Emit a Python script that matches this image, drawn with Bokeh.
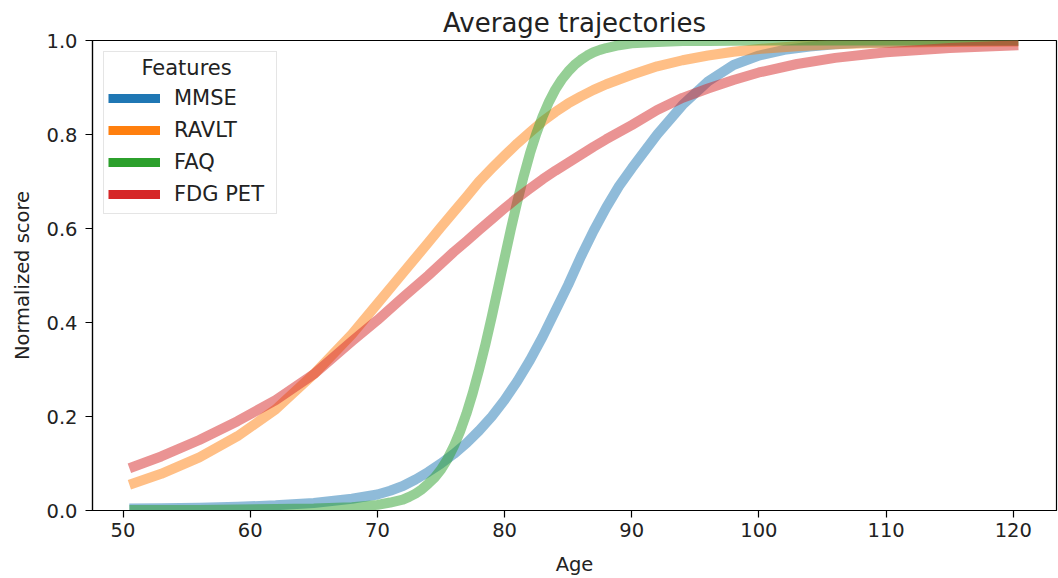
from bokeh.plotting import figure
from bokeh.models import Range1d, FixedTicker, PrintfTickFormatter, Legend, LegendItem
from bokeh.embed import file_html
from bokeh.resources import INLINE

# ---- data ----
ages = [50.5, 53, 56, 59, 62, 65, 68, 70, 72, 74, 75, 76, 77, 78, 79, 80, 81, 82, 83,
        84, 85, 86, 87, 88, 90, 92, 94, 96, 98, 100, 103, 106, 110, 115, 120.4]

ravlt = [0.055, 0.078, 0.113, 0.158, 0.215, 0.29, 0.375, 0.44, 0.505, 0.57, 0.603, 0.635,
         0.667, 0.70, 0.728, 0.755, 0.781, 0.805, 0.828, 0.848, 0.866, 0.881, 0.895, 0.907,
         0.927, 0.945, 0.958, 0.968, 0.976, 0.982, 0.988, 0.992, 0.995, 0.997, 0.998]

fdg_pet = [0.09, 0.115, 0.15, 0.19, 0.235, 0.29, 0.36, 0.405, 0.453, 0.50, 0.525, 0.55,
           0.573, 0.597, 0.62, 0.643, 0.665, 0.685, 0.705, 0.723, 0.74, 0.757, 0.774, 0.79,
           0.82, 0.852, 0.878, 0.898, 0.916, 0.932, 0.95, 0.963, 0.975, 0.984, 0.99]

mmse_ages = [50.5, 53, 56, 59, 62, 65, 68, 70, 71, 72, 73, 74, 75, 76, 77, 78, 79, 80,
             81, 82, 83, 84, 85, 86, 87, 88, 89, 90, 92, 94, 96, 98, 100, 102, 104, 106,
             108, 110, 113, 116, 120.4]
mmse = [0.004, 0.005, 0.006, 0.008, 0.011, 0.016, 0.025, 0.034, 0.042, 0.052, 0.066, 0.082,
        0.10, 0.12, 0.143, 0.17, 0.20, 0.235, 0.275, 0.32, 0.37, 0.425, 0.48, 0.54, 0.595,
        0.645, 0.69, 0.728, 0.8, 0.863, 0.913, 0.948, 0.968, 0.98, 0.987, 0.992, 0.995,
        0.996, 0.998, 0.999, 0.999]

faq_ages = [50.5, 53, 56, 59, 62, 65, 68, 70, 71, 72, 72.5, 73, 73.5, 74, 74.5, 75, 75.5,
            76, 76.5, 77, 77.5, 78, 78.5, 79, 79.5, 80, 80.5, 81, 81.5, 82, 82.5, 83, 83.5,
            84, 84.5, 85, 85.5, 86, 86.5, 87, 87.5, 88, 89, 90, 92, 94, 96, 100, 110, 120.4]
faq = [0.001, 0.001, 0.001, 0.002, 0.003, 0.004, 0.007, 0.012, 0.017, 0.023, 0.029, 0.036,
       0.045, 0.057, 0.07, 0.087, 0.109, 0.136, 0.168, 0.206, 0.25, 0.30, 0.354, 0.413,
       0.475, 0.537, 0.599, 0.657, 0.711, 0.76, 0.802, 0.839, 0.87, 0.896, 0.917, 0.934,
       0.948, 0.959, 0.968, 0.975, 0.98, 0.984, 0.99, 0.994, 0.997, 0.999, 0.999, 1.0, 1.0,
       1.0]

series_names = ["MMSE", "RAVLT", "FAQ", "FDG PET"]
series_x = [mmse_ages, ages, faq_ages, ages]
series_values = [mmse, ravlt, faq, fdg_pet]
colors = ["#1f77b4", "#ff7f0e", "#2ca02c", "#d62728"]

x_ticks = [50, 60, 70, 80, 90, 100, 110, 120]
y_ticks = [0.0, 0.2, 0.4, 0.6, 0.8, 1.0]

FONT = "DejaVu Sans"
TXT = "#222222"

p = figure(width=1058, height=578, output_backend="svg", toolbar_location=None,
           x_range=Range1d(47.6, 123.4), y_range=Range1d(0, 1),
           min_border_left=92, min_border_right=2, min_border_top=40, min_border_bottom=67)

p.title.text = "Average trajectories"
p.title.align = "center"
p.title.text_font = FONT
p.title.text_font_size = "26px"
p.title.text_font_style = "normal"
p.title.text_color = TXT
p.title.standoff = 6
p.title.offset = 0

p.xgrid.visible = False
p.ygrid.visible = False
p.outline_line_color = "black"
p.outline_line_width = 1.2
p.outline_line_alpha = 1.0
p.background_fill_color = "white"
p.border_fill_color = "white"

for ax in (p.xaxis[0], p.yaxis[0]):
    ax.axis_line_color = "black"
    ax.axis_line_width = 1.2
    ax.major_tick_line_color = "black"
    ax.major_tick_line_width = 1.2
    ax.major_tick_out = 7
    ax.major_tick_in = 0
    ax.minor_tick_line_color = None
    ax.major_label_text_font = FONT
    ax.major_label_text_font_size = "19.5px"
    ax.major_label_text_color = TXT
    ax.axis_label_text_font = FONT
    ax.axis_label_text_font_size = "19.5px"
    ax.axis_label_text_font_style = "normal"
    ax.axis_label_text_color = TXT

p.xaxis.ticker = FixedTicker(ticks=x_ticks)
p.yaxis.ticker = FixedTicker(ticks=y_ticks)
p.yaxis.formatter = PrintfTickFormatter(format="%.1f")
p.xaxis.axis_label = "Age"
p.yaxis.axis_label = "Normalized score"
p.xaxis.major_label_standoff = 5
p.yaxis.major_label_standoff = 8
p.xaxis.axis_label_standoff = 13
p.yaxis.axis_label_standoff = 9

items = []
for name, xs, vals, col in zip(series_names, series_x, series_values, colors):
    p.line(xs, vals, line_color=col, line_alpha=0.5, line_width=10, line_cap="butt",
           line_join="round")
    dummy = p.line([xs[0]], [float("nan")], line_color=col, line_alpha=1.0, line_width=9)
    items.append(LegendItem(label=name, renderers=[dummy]))

legend = Legend(items=items, location="top_left")
legend.title = "\u00a0\u00a0\u00a0\u00a0\u00a0Features"
legend.title_text_font = FONT
legend.title_text_font_size = "21px"
legend.title_text_font_style = "normal"
legend.title_text_color = TXT
legend.title_standoff = 3
legend.label_text_font = FONT
legend.label_text_font_size = "21px"
legend.label_text_color = TXT
legend.label_text_baseline = "middle"
legend.glyph_width = 52
legend.glyph_height = 30
legend.label_height = 30
legend.label_width = 98
legend.label_standoff = 14
legend.spacing = 2
legend.padding = 4
legend.margin = 11
legend.border_line_color = "#cccccc"
legend.border_line_width = 1.2
legend.background_fill_color = "white"
legend.background_fill_alpha = 0.8
p.add_layout(legend)

open("out.html", "w").write(file_html(p, INLINE))
